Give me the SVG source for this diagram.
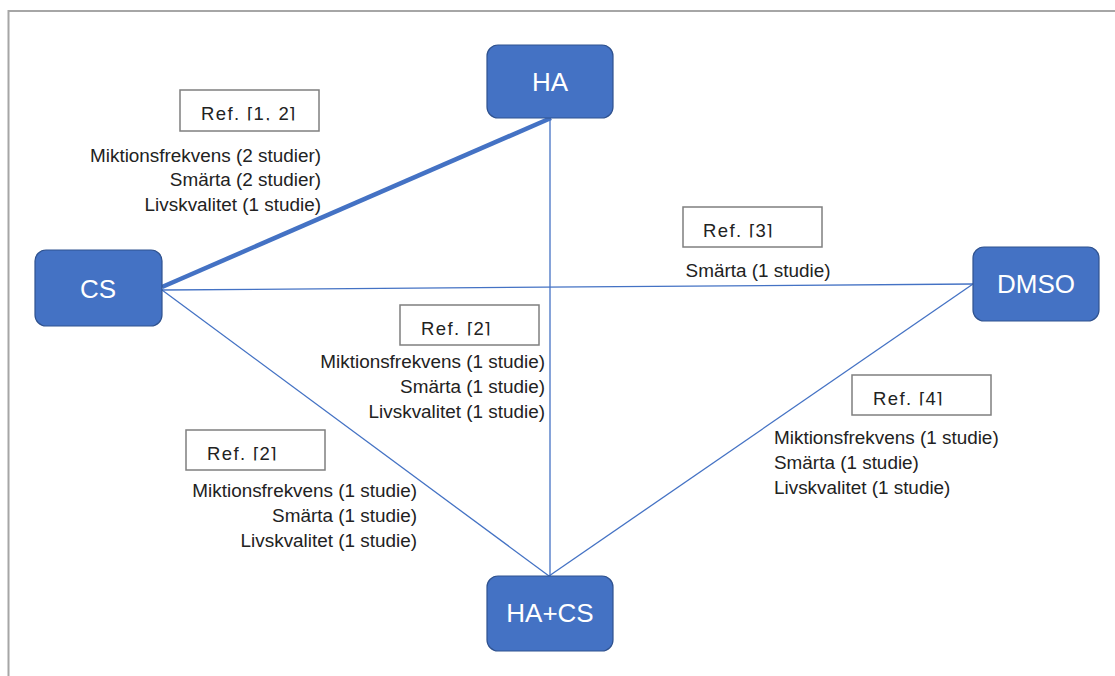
<svg xmlns="http://www.w3.org/2000/svg" width="1115" height="676" viewBox="0 0 1115 676">
<style>
.node rect{fill:#4472C4;stroke:#2F528F;stroke-width:1.2}
.node text{fill:#fff;font-family:"Liberation Sans",Arial,sans-serif;font-size:26px;text-anchor:middle}
.conn{stroke:#4472C4;stroke-width:1.3;fill:none}
.thick{stroke-width:4.5}
.ref rect{fill:#fff;stroke:#7f7f7f;stroke-width:1.5}
.ref text{fill:#222;font-family:"Liberation Sans",Arial,sans-serif;font-size:18.5px;letter-spacing:1.4px}
.lbl{fill:#222;font-family:"Liberation Sans",Arial,sans-serif;font-size:18.9px}
.r{text-anchor:end}
.m{text-anchor:middle}
</style>
<defs>
<clipPath id="c1"><rect x="180" y="90" width="140" height="30.5"/></clipPath>
<clipPath id="c2"><rect x="683" y="207" width="140" height="30.5"/></clipPath>
<clipPath id="c3"><rect x="400" y="305" width="140" height="30.5"/></clipPath>
<clipPath id="c4"><rect x="852" y="375" width="140" height="30.5"/></clipPath>
<clipPath id="c5"><rect x="186" y="430" width="140" height="30.5"/></clipPath>
</defs>
<rect width="1115" height="676" fill="#fff"/>
<path d="M8.5,676 V11 H1115" fill="none" stroke="#a6a6a6" stroke-width="2"/>

<g id="connectors">
<line class="conn thick" x1="162" y1="287" x2="551" y2="118"/>
<line class="conn" x1="550" y1="118" x2="550" y2="576"/>
<line class="conn" x1="162" y1="290" x2="973" y2="284"/>
<line class="conn" x1="162" y1="290" x2="549" y2="576"/>
<line class="conn" x1="973" y1="284" x2="549" y2="576"/>
</g>

<g id="ref-cs-ha" class="ref">
<rect x="180" y="90" width="139" height="41"/>
<text x="201" y="120" clip-path="url(#c1)">Ref. [1, 2]</text>
</g>
<g id="lbl-cs-ha" class="lbl r">
<text x="321" y="161.5">Miktionsfrekvens (2 studier)</text>
<text x="321" y="186">Smärta (2 studier)</text>
<text x="321" y="211">Livskvalitet (1 studie)</text>
</g>

<g id="ref-cs-dmso" class="ref">
<rect x="683" y="207" width="139" height="40"/>
<text x="703" y="237" clip-path="url(#c2)">Ref. [3]</text>
</g>
<text id="lbl-cs-dmso" class="lbl m" x="758" y="277">Smärta (1 studie)</text>

<g id="ref-ha-hacs" class="ref">
<rect x="400" y="305" width="139" height="40"/>
<text x="421" y="335" clip-path="url(#c3)">Ref. [2]</text>
</g>
<g id="lbl-ha-hacs" class="lbl r">
<text x="545" y="368">Miktionsfrekvens (1 studie)</text>
<text x="545" y="393">Smärta (1 studie)</text>
<text x="545" y="418">Livskvalitet (1 studie)</text>
</g>

<g id="ref-dmso-hacs" class="ref">
<rect x="852" y="375" width="139" height="40"/>
<text x="873" y="405" clip-path="url(#c4)">Ref. [4]</text>
</g>
<g id="lbl-dmso-hacs" class="lbl">
<text x="774" y="444">Miktionsfrekvens (1 studie)</text>
<text x="774" y="469">Smärta (1 studie)</text>
<text x="774" y="494">Livskvalitet (1 studie)</text>
</g>

<g id="ref-cs-hacs" class="ref">
<rect x="186" y="430" width="139" height="40"/>
<text x="207" y="460" clip-path="url(#c5)">Ref. [2]</text>
</g>
<g id="lbl-cs-hacs" class="lbl r">
<text x="417" y="497">Miktionsfrekvens (1 studie)</text>
<text x="417" y="522">Smärta (1 studie)</text>
<text x="417" y="547">Livskvalitet (1 studie)</text>
</g>

<g id="node-ha" class="node">
<rect x="487" y="45" width="126" height="73" rx="11"/>
<text x="550" y="91">HA</text>
</g>
<g id="node-cs" class="node">
<rect x="35" y="250" width="127" height="76" rx="11"/>
<text x="98" y="298">CS</text>
</g>
<g id="node-dmso" class="node">
<rect x="973" y="247" width="126" height="74" rx="11"/>
<text x="1036" y="293">DMSO</text>
</g>
<g id="node-hacs" class="node">
<rect x="487" y="576" width="126" height="75" rx="11"/>
<text x="550" y="622">HA+CS</text>
</g>
</svg>
